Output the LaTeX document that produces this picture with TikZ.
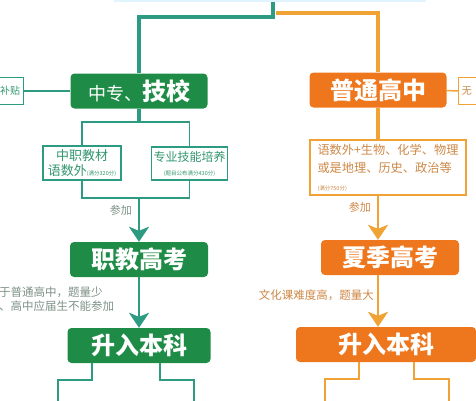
\documentclass[tikz,border=0pt]{standalone}
\usepackage{fontspec}
\setmainfont{Noto Sans CJK SC}
\usetikzlibrary{arrows.meta,positioning,calc}
\definecolor{dkgreen}{RGB}{30,140,70}
\definecolor{tealline}{RGB}{45,155,130}
\definecolor{tealtext}{RGB}{50,150,110}
\definecolor{graytext}{RGB}{125,145,135}
\definecolor{dkorange}{RGB}{238,118,28}
\definecolor{ltorange}{RGB}{240,162,52}
\definecolor{brorange}{RGB}{205,135,70}

\begin{document}
\begin{tikzpicture}[x=1pt,y=-1pt,
          gbox/.style={rounded corners=4pt,fill=dkgreen,text=white,
                       minimum height=35pt,inner sep=0pt,
                       font=\fontsize{24}{24}\selectfont\bfseries},
          obox/.style={gbox,fill=dkorange},
          gsub/.style={draw=tealline,line width=1.5pt,text=tealtext,
                       align=center,inner sep=2pt},
          osub/.style={draw=ltorange,line width=1.5pt,text=brorange,
                       align=left,inner sep=3pt},
          gside/.style={draw=tealline,line width=1.2pt,text=tealtext,
                        minimum height=27pt,text width=32pt,
                        font=\fontsize{10}{10}\selectfont},
          oside/.style={gside,draw=ltorange,text=brorange},
          gtrunk/.style={draw=tealline,line width=4pt},
          otrunk/.style={draw=ltorange,line width=4pt},
          gthin/.style={draw=tealline,line width=1.5pt},
          othin/.style={draw=ltorange,line width=1.5pt},
          garrow/.style={draw=tealline,line width=2.5pt,
                         -{Stealth[width=20pt,length=15pt,inset=4pt]}},
          oarrow/.style={garrow,draw=ltorange},
          note/.style={inner sep=0pt,font=\fontsize{11.5}{14}\selectfont}]
        \useasboundingbox (0,0) rectangle (476,400);
        \node[draw=cyan!12,line width=2pt,minimum width=310pt,
              minimum height=40pt] (root) at (270,-19) {};
        \node[gbox,minimum width=137pt] (zz) at (139,91)
          {{\fontsize{18}{18}\selectfont\mdseries 中专、}技校};
        \node[obox,minimum width=137pt] (pt) at (378,90) {普通高中};
        \node[gside,anchor=east,align=right] (bt) at (24,91) {补贴};
        \node[oside,anchor=west,align=left] (wu) at (458,91) {无};
        \draw[gthin] (bt) -- (zz);
        \draw[othin] (pt) -- (wu);
        \coordinate (gsplit) at (273,17);
        \coordinate (osplit) at (276,13);
        \draw[gtrunk] (root.south -| gsplit) -- (gsplit) -| (zz.north);
        \draw[otrunk] (osplit) -| (pt.north);

        \node[gsub,minimum width=78pt,minimum height=34pt,
              font=\fontsize{13}{15}\selectfont] (zj) at (82,163)
          {中职教材\\语数外{\fontsize{5.5}{6}\selectfont (满分320分)}};
        \node[gsub,minimum width=75pt,minimum height=33pt,
              font=\fontsize{12}{14}\selectfont] (jn) at (189.5,163.5)
          {专业技能培养\\{\fontsize{5.5}{6}\selectfont (题目公布满分430分)}};
        \coordinate (zzfork) at (zz.south |- 0,122);
        \coordinate (zzjoin) at (zz.south |- 0,198);
        \draw[gtrunk] (zz.south) -- (zzfork);
        \draw[gthin] (zj.north) |- (zzfork) -| (jn.north);
        \draw[gthin] (zj.south) |- (zzjoin) -| (jn.south);

        \node[gbox,minimum width=138pt] (jk) at (139,259.5) {职教高考};
        \draw[garrow] (zzjoin) -- (jk.north)
          node[pos=0.27,left=6pt,text=graytext,inner sep=0pt,
               font=\fontsize{11}{11}\selectfont] (cj1) {参加};
        \node[gbox,minimum width=143pt] (sb1) at (139,345.5) {升入本科};
        \draw[garrow] (jk) -- (sb1);
        \node[note,anchor=north west,align=left,text=graytext] (jknote)
          at (-1,287) {于普通高中，题量少\\、高中应届生不能参加};
        \coordinate (g1) at (58,402);
        \coordinate (g2) at (194,402);
        \draw[gthin] ([xshift=-47pt]sb1.south) -- ++(0,17) -| (g1);
        \draw[gthin] ([xshift=21pt]sb1.south) -- ++(0,17) -| (g2);

        \node[osub,minimum width=156pt,minimum height=55pt,
              font=\fontsize{12.2}{18}\selectfont] (sub) at (388,167.5)
          {语数外+生物、化学、物理\\或是地理、历史、政治等\\
           {\fontsize{5.5}{8}\selectfont (满分750分)}};
        \draw[otrunk] (pt) -- (pt |- sub.north);
        \node[obox,minimum width=138pt] (xj) at (390,257.5) {夏季高考};
        \draw[oarrow] (pt |- sub.south) -- (pt |- xj.north)
          node[pos=0.27,left=6pt,text=brorange,inner sep=0pt,
               font=\fontsize{11}{11}\selectfont] (cj2) {参加};
        \node[obox,minimum width=180pt] (sb2) at (386,344.5) {升入本科};
        \draw[oarrow] (pt |- xj.south) -- (pt |- sb2.north);
        \node[note,anchor=east,text=brorange] (xjnote) at (374,295)
          {文化课难度高，题量大};
        \coordinate (o1) at (325,402);
        \coordinate (o2) at (449,402);
        \draw[othin] ([xshift=-27pt]sb2.south) -- ++(0,17) -| (o1);
        \draw[othin] ([xshift=28pt]sb2.south) -- ++(0,17) -| (o2);
      \end{tikzpicture}
\end{document}
